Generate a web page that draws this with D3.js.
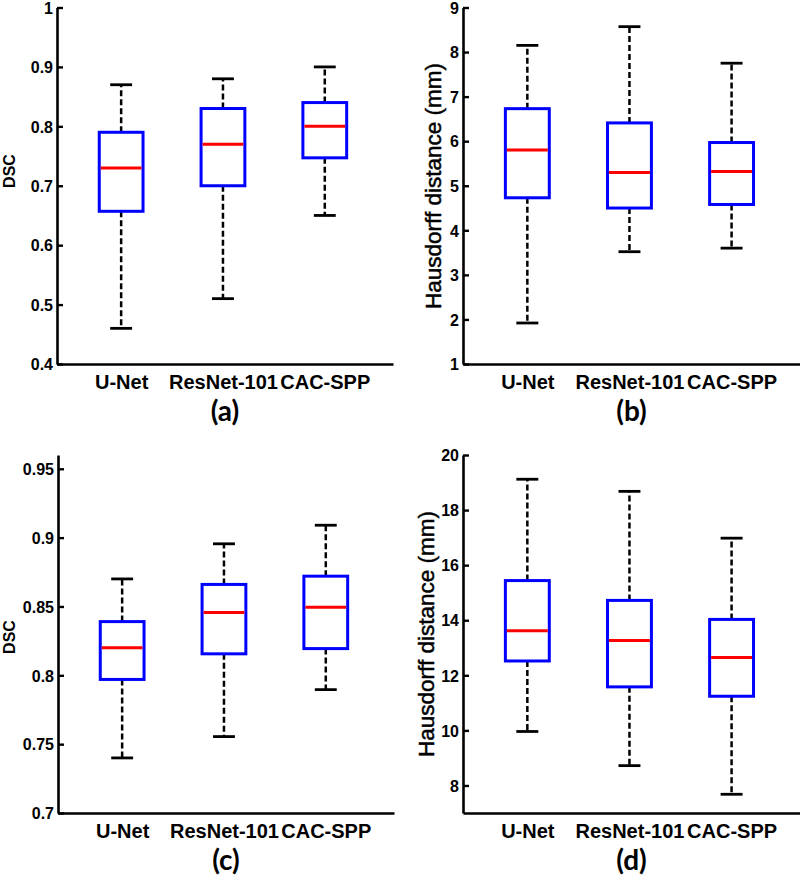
<!DOCTYPE html>
<html>
<head>
<meta charset="utf-8">
<script src="https://cdn.jsdelivr.net/npm/d3@7"></script>
<style>
  body { margin: 0; background: #fff; }
  svg { display: block; }
</style>
</head>
<body>
<svg id="chart" width="800" height="877"></svg>
<script>
// methods on the x axis
var methods = ["U-Net", "ResNet-101", "CAC-SPP"];

// box stats per method: [lower whisker, Q1, median, Q3, upper whisker]
var dscA = [[0.46, 0.657, 0.73, 0.79, 0.87],
            [0.51, 0.70, 0.77, 0.83, 0.88],
            [0.65, 0.747, 0.80, 0.84, 0.90]];
var hdB  = [[1.92, 4.73, 5.80, 6.73, 8.15],
            [3.52, 4.50, 5.30, 6.41, 8.57],
            [3.60, 4.58, 5.32, 5.97, 7.75]];
var dscC = [[0.74, 0.797, 0.82, 0.839, 0.87],
            [0.7555, 0.8156, 0.8456, 0.866, 0.8955],
            [0.7896, 0.8194, 0.8495, 0.872, 0.909]];
var hdD  = [[9.96, 12.52, 13.62, 15.44, 19.12],
            [8.72, 11.58, 13.26, 14.72, 18.68],
            [7.68, 11.24, 12.65, 14.03, 16.98]];

// y tick values
var ticksA = [0.4, 0.5, 0.6, 0.7, 0.8, 0.9, 1];
var ticksB = [1, 2, 3, 4, 5, 6, 7, 8, 9];
var ticksC = [0.7, 0.75, 0.8, 0.85, 0.9, 0.95];
var ticksD = [8, 10, 12, 14, 16, 18, 20];

var svg = d3.select("#chart");

function boxPanel(opt) {
	var g = svg.append("g");

	var x = d3.scaleLinear()
		.domain([0.37, 3.67])
		.range([opt.left, opt.left + opt.width]);

	var y = d3.scaleLinear()
		.domain(opt.yDomain)
		.range([opt.bottom, opt.top]);

	var boxW = 0.43 * (x(2) - x(1));

	// y axis, ticks point inward like matlab
	g.append("g")
		.attr("transform", `translate(${opt.left},0)`)
		.call(d3.axisLeft(y)
			.tickValues(opt.ticks)
			.tickFormat(d => String(+d.toFixed(2)))
			.tickSizeInner(-6)
			.tickSizeOuter(0)
			.tickPadding(4))
		.call(a => a.select(".domain").attr("stroke-width", 2.6))
		.call(a => a.selectAll(".tick line").attr("stroke-width", 2.4))
		.call(a => a.selectAll(".tick text")
			.attr("dy", "0.36em")
			.attr("font-family", "'Liberation Sans', Arial, sans-serif")
			.attr("font-weight", "bold")
			.attr("font-size", 16)
			.attr("fill", "#000"));

	// x axis
	g.append("g")
		.attr("transform", `translate(0,${opt.bottom})`)
		.call(d3.axisBottom(x)
			.tickValues([1, 2, 3])
			.tickFormat((d, i) => methods[i])
			.tickSize(0)
			.tickPadding(11))
		.call(a => a.select(".domain").attr("stroke-width", 2.6))
		.call(a => a.selectAll(".tick text")
			.attr("font-family", "'Liberation Sans', Arial, sans-serif")
			.attr("font-weight", "bold")
			.attr("font-size", 20)
			.attr("fill", "#000"));

	var boxes = g.append("g")
		.selectAll("g")
		.data(opt.stats)
		.join("g");

	// dashed whiskers
	boxes.append("line")
		.attr("x1", (d, i) => x(i + 1)).attr("x2", (d, i) => x(i + 1))
		.attr("y1", d => y(d[3])).attr("y2", d => y(d[4]))
		.attr("stroke", "#000").attr("stroke-width", 2.5)
		.attr("stroke-dasharray", "6,3");
	boxes.append("line")
		.attr("x1", (d, i) => x(i + 1)).attr("x2", (d, i) => x(i + 1))
		.attr("y1", d => y(d[1])).attr("y2", d => y(d[0]))
		.attr("stroke", "#000").attr("stroke-width", 2.5)
		.attr("stroke-dasharray", "6,3");

	// caps
	[0, 4].forEach(k => {
		boxes.append("line")
			.attr("x1", (d, i) => x(i + 1) - boxW / 4)
			.attr("x2", (d, i) => x(i + 1) + boxW / 4)
			.attr("y1", d => y(d[k])).attr("y2", d => y(d[k]))
			.attr("stroke", "#000").attr("stroke-width", 2.8);
	});

	boxes.append("rect")
		.attr("x", (d, i) => x(i + 1) - boxW / 2)
		.attr("width", boxW)
		.attr("y", d => y(d[3]))
		.attr("height", d => y(d[1]) - y(d[3]))
		.attr("fill", "#fff")
		.attr("stroke", "#0000ff")
		.attr("stroke-width", 3);

	boxes.append("line")
		.attr("x1", (d, i) => x(i + 1) - boxW / 2 + 1.5)
		.attr("x2", (d, i) => x(i + 1) + boxW / 2 - 1.5)
		.attr("y1", d => y(d[2])).attr("y2", d => y(d[2]))
		.attr("stroke", "#ff0000").attr("stroke-width", 3);

	// y label
	g.append("text")
		.attr("transform", `translate(${opt.labelX},${opt.labelY}) rotate(-90)`)
		.attr("text-anchor", "middle")
		.attr("font-family", "'Liberation Sans', Arial, sans-serif")
		.attr("font-weight", opt.labelBold ? "bold" : "normal")
		.attr("font-size", opt.labelSize)
		.attr("fill", "#000")
		.attr("stroke", opt.labelBold ? "none" : "#000")
		.attr("stroke-width", 0.5)
		.text(opt.label);

	// panel letter
	g.append("text")
		.attr("x", opt.left + opt.width / 2)
		.attr("y", opt.bottom + 57)
		.attr("text-anchor", "middle")
		.attr("font-family", "Lato, 'Open Sans', sans-serif")
		.attr("font-weight", "bold")
		.attr("font-size", 28)
		.attr("fill", "#000")
		.text(opt.letter);
}

boxPanel({ stats: dscA, ticks: ticksA, yDomain: [0.4, 1], left: 57, width: 336, top: 7.5, bottom: 364,
	label: "DSC", labelBold: true, labelSize: 16, labelX: 15, labelY: 171, letter: "(a)" });
boxPanel({ stats: hdB, ticks: ticksB, yDomain: [1, 9], left: 463, width: 337, top: 7.5, bottom: 364,
	label: "Hausdorff distance (mm)", labelBold: false, labelSize: 22.5, labelX: 441, labelY: 186, letter: "(b)" });
boxPanel({ stats: dscC, ticks: ticksC, yDomain: [0.7, 0.96], left: 58, width: 336, top: 455, bottom: 813,
	label: "DSC", labelBold: true, labelSize: 16, labelX: 15, labelY: 637, letter: "(c)" });
boxPanel({ stats: hdD, ticks: ticksD, yDomain: [7, 20], left: 463, width: 337, top: 455, bottom: 813,
	label: "Hausdorff distance (mm)", labelBold: false, labelSize: 22.5, labelX: 434, labelY: 634, letter: "(d)" });
</script>
</body>
</html>
